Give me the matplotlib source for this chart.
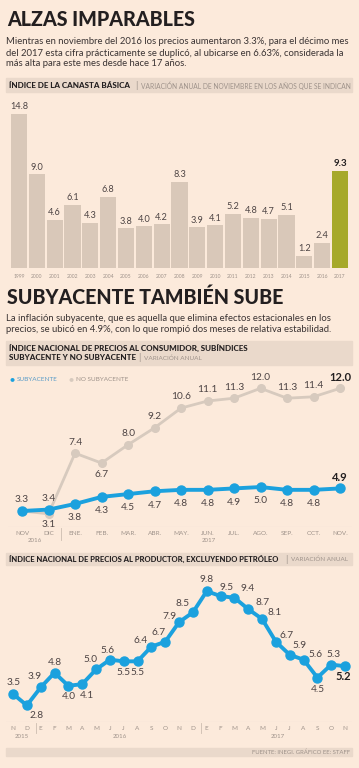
import matplotlib
matplotlib.use("Agg")
import matplotlib.pyplot as plt
from matplotlib.patches import Rectangle

# ---- data ----
years = [str(y) for y in range(1999, 2018)]
canasta = [14.8, 9.0, 4.6, 6.1, 4.3, 6.8, 3.8, 4.0, 4.2, 8.3,
           3.9, 4.1, 5.2, 4.8, 4.7, 5.1, 1.2, 2.4, 9.3]

meses_inpc = ["NOV", "DIC", "ENE.", "FEB.", "MAR.", "ABR.", "MAY.",
              "JUN.", "JUL.", "AGO.", "SEP.", "OCT.", "NOV."]
subyacente = [3.3, 3.4, 3.8, 4.3, 4.5, 4.7, 4.8, 4.8, 4.9, 5.0, 4.8, 4.8, 4.9]
no_subyacente = [3.3, 3.1, 7.4, 6.7, 8.0, 9.2, 10.6, 11.1, 11.3, 12.0, 11.3, 11.4, 12.0]

meses_inpp = ["N", "D", "E", "F", "M", "A", "M", "J", "J", "A", "S", "O", "N",
              "D", "E", "F", "M", "A", "M", "J", "J", "A", "S", "O", "N"]
productor = [3.5, 2.8, 3.9, 4.8, 4.0, 4.1, 5.0, 5.6, 5.5, 5.5, 6.4, 6.7, 7.9,
             8.5, 9.8, 9.5, 9.4, 8.7, 8.1, 6.7, 5.9, 5.6, 4.5, 5.3, 5.2]

# ---- style ----
BG = "#fceadb"
BAND = "#ead9cb"
BAR = "#d9c8b9"
OLIVE = "#a6a92a"
BLUE = "#1ba1de"
LGRAY = "#d7cabe"
TXT = "#231f20"
NUM = "#4d4444"
SMALL = "#9e928a"
FONT = ["Lato", "DejaVu Sans"]

plt.rcParams["font.family"] = FONT

W, H = 359, 768
fig = plt.figure(figsize=(W / 100, H / 100), dpi=100, facecolor=BG)


def fx(px):
    return px / W


def fy(py):
    return 1 - py / H


def axes_px(left, top, right, bottom):
    ax = fig.add_axes([fx(left), fy(bottom), (right - left) / W, (bottom - top) / H])
    ax.set_facecolor("none")
    for s in ax.spines.values():
        s.set_visible(False)
    ax.set_yticks([])
    ax.tick_params(axis="x", length=0)
    return ax


def band(top, bottom, left=6, right=352):
    fig.patches.append(Rectangle((fx(left), fy(bottom)), (right - left) / W,
                                 (bottom - top) / H, transform=fig.transFigure,
                                 color=BAND, zorder=0))


def ftext(x, y, s, **kw):
    kw.setdefault("color", TXT)
    fig.text(fx(x), fy(y), s, **kw)


# ---- section 1 ----
ftext(7, 20, "ALZAS IMPARABLES", fontsize=14.1, fontweight="black", va="center")
body1 = ["Mientras en noviembre del 2016 los precios aumentaron 3.3%, para el décimo mes",
         "del 2017 esta cifra prácticamente se duplicó, al ubicarse en 6.63%, considerada la",
         "más alta para este mes desde hace 17 años."]
for i, line in enumerate(body1):
    ftext(6, 42 + i * 11, line, fontsize=6.85, va="center", color="#3a3333")

band(78, 92)
ftext(9, 85.5, "ÍNDICE DE LA CANASTA BÁSICA", fontsize=5.8, fontweight="black", va="center")
ftext(135, 85.5, "|", fontsize=6.5, va="center", color=SMALL)
ftext(141, 85.5, "VARIACIÓN ANUAL DE NOVIEMBRE EN LOS AÑOS QUE SE INDICAN",
      fontsize=4.75, va="center", color=SMALL)

ax1 = axes_px(8.3, 100, 350.7, 268)
x1 = list(range(len(canasta)))
colors = [BAR] * (len(canasta) - 1) + [OLIVE]
ax1.bar(x1, canasta, width=0.9, color=colors, zorder=2)
ax1.set_xlim(-0.6, len(canasta) - 0.4)
ax1.set_ylim(0, 16.15)
ax1.axhline(0, color="#cdbdb0", lw=0.6, zorder=1)
ax1.set_xticks(x1, years, fontsize=3.6, color=SMALL)
ax1.tick_params(axis="x", pad=4)
for i, v in enumerate(canasta):
    last = i == len(canasta) - 1
    ax1.annotate(f"{v:.1f}", (i, v), xytext=(0, 2), textcoords="offset points",
                 ha="center", va="bottom", fontsize=7 if last else 6.6,
                 fontweight="bold" if last else "normal",
                 color=TXT if last else NUM)

# ---- section 2 ----
ftext(7, 297, "SUBYACENTE TAMBIÉN SUBE", fontsize=14.1, fontweight="black", va="center")
body2 = ["La inflación subyacente, que es aquella que elimina efectos estacionales en los",
         "precios, se ubicó en 4.9%, con lo que rompió dos meses de relativa estabilidad."]
for i, line in enumerate(body2):
    ftext(6, 319 + i * 11, line, fontsize=6.85, va="center", color="#3a3333")

band(341, 365)
ftext(9, 348, "ÍNDICE NACIONAL DE PRECIOS AL CONSUMIDOR, SUBÍNDICES",
      fontsize=5.8, fontweight="black", va="center")
ftext(9, 358, "SUBYACENTE Y NO SUBYACENTE", fontsize=5.8, fontweight="black", va="center")
ftext(138, 358, "|", fontsize=6.5, va="center", color=SMALL)
ftext(144, 358, "VARIACIÓN ANUAL", fontsize=4.6, va="center", color=SMALL)

ax2 = axes_px(8, 370, 352, 527)
x2 = list(range(len(subyacente)))
ax2.plot(x2, no_subyacente, color=LGRAY, lw=2, marker="o", ms=5.5,
         label="NO SUBYACENTE", zorder=2)
ax2.plot(x2, subyacente, color=BLUE, lw=2.8, marker="o", ms=6.5,
         label="SUBYACENTE", zorder=3)
ax2.set_xlim(-0.53, len(subyacente) - 0.55)
ax2.set_ylim(2.165, 13.3)
ax2.axhline(2.165, color="#e6d6c9", lw=0.8)
ax2.set_xticks(x2, meses_inpc, fontsize=4.6, color=SMALL)
ax2.tick_params(axis="x", pad=3)

# legend drawn by hand to mimic the compact header legend
ftext(12, 379, "●", fontsize=6, color=BLUE, va="center", ha="center")
ftext(17, 379.5, "SUBYACENTE", fontsize=4.6, color="#5a9cc8", va="center")
ftext(71, 379, "●", fontsize=6, color=LGRAY, va="center", ha="center")
ftext(76, 379.5, "NO SUBYACENTE", fontsize=4.6, color=SMALL, va="center")

n2 = len(subyacente)
for i, v in enumerate(subyacente):
    last = i == n2 - 1
    dy = 8 if i < 2 or last else -10
    ax2.annotate(f"{v:.1f}", (i, v), xytext=(0, dy), textcoords="offset points",
                 ha="center", va="center", fontsize=8 if last else 7.3,
                 fontweight="bold" if last else "normal",
                 color=TXT if last else NUM)
for i, v in enumerate(no_subyacente):
    if i == 0:
        continue
    last = i == n2 - 1
    dy = -8 if i in (1, 3) else 8
    ax2.annotate(f"{v:.1f}", (i, v), xytext=(0, dy), textcoords="offset points",
                 ha="center", va="center", fontsize=8 if last else 7.3,
                 fontweight="bold" if last else "normal",
                 color=TXT if last else NUM)

ftext(35, 541, "2016", fontsize=4.4, color=SMALL, ha="center", va="center")
ftext(209, 541, "2017", fontsize=4.4, color=SMALL, ha="center", va="center")
fig.add_artist(plt.Line2D([fx(61), fx(61)], [fy(528), fy(540)], color="#cdbdb0", lw=0.6))

# ---- section 3 ----
band(553, 565)
ftext(9, 559, "ÍNDICE NACIONAL DE PRECIOS AL PRODUCTOR, EXCLUYENDO PETRÓLEO",
      fontsize=5.5, fontweight="black", va="center")
ftext(285, 559, "|", fontsize=6.5, va="center", color=SMALL)
ftext(291, 559, "VARIACIÓN ANUAL", fontsize=4.5, va="center", color=SMALL)

ax3 = axes_px(6, 570, 352, 722)
x3 = list(range(len(productor)))
ax3.plot(x3, productor, color=BLUE, lw=2.8, marker="o", ms=6.5, zorder=3)
ax3.set_xlim(-0.506, len(productor) - 0.5)
ax3.set_ylim(1.78, 11.1)
ax3.axhline(1.78, color="#e6d6c9", lw=0.8)
ax3.set_xticks(x3, meses_inpp, fontsize=4.6, color=SMALL)
ax3.tick_params(axis="x", pad=3)

# label offsets in pixels (dx, dy; dy positive = down)
offs = [(1, -11), (10, 10), (-6, -11), (0, -10), (0, 11), (5, 11), (-6, -10),
        (-2, -9), (0, 11), (0, 11), (-11, -6), (-7, -9), (-10, -6), (-10, -9),
        (0, -12), (6, -9), (13, -9), (14, -7), (13, -6), (11, -6), (10, -9),
        (12, -5), (0, 12), (2, -10), (-2, 10)]
n3 = len(productor)
for i, v in enumerate(productor):
    last = i == n3 - 1
    dx, dy = offs[i]
    ax3.annotate(f"{v:.1f}", (i, v), xytext=(dx * 0.72, -dy * 0.72),
                 textcoords="offset points", ha="center", va="center",
                 fontsize=8 if last else 7.3,
                 fontweight="bold" if last else "normal",
                 color=TXT if last else NUM)

ftext(22, 737, "2015", fontsize=4.4, color=SMALL, ha="center", va="center")
ftext(120, 737, "2016", fontsize=4.4, color=SMALL, ha="center", va="center")
ftext(278, 737, "2017", fontsize=4.4, color=SMALL, ha="center", va="center")
for sx in (36, 201):
    fig.add_artist(plt.Line2D([fx(sx), fx(sx)], [fy(723), fy(733)], color="#cdbdb0", lw=0.6))

band(748, 756)
ftext(350, 752, "FUENTE: INEGI. GRÁFICO EE: STAFF", fontsize=4.3, color=SMALL,
      ha="right", va="center")

fig.savefig("out.png", dpi=100, facecolor=BG)
